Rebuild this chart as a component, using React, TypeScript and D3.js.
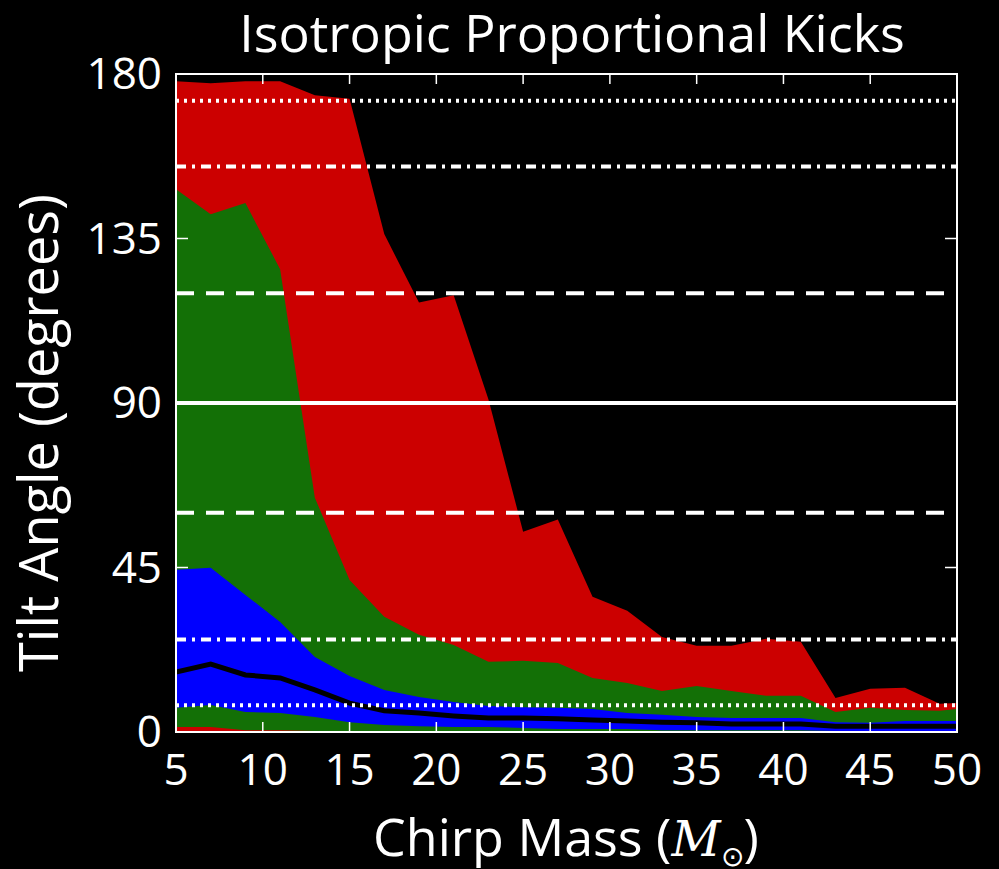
import React from "react";
import * as d3 from "d3";

const mass = [5,7,9,11,13,15,17,19,21,23,25,27,29,31,33,35,37,39,41,43,45,47,49,50];
const redHigh = [178,177.5,178,178,174.2,173.2,136.2,117.5,119.5,91.0,54.8,58.1,37.0,33.2,26.0,23.6,23.6,25.5,24.7,9.3,11.8,12.1,7.7,7.9];
const greenHigh = [148.5,141.6,144.7,126.6,64.1,41.6,31.5,26.6,23.8,19.2,19.5,18.9,14.8,13.4,11.2,12.6,11.2,9.9,9.9,5.5,6.6,6.0,5.8,6.3];
const blueHigh = [44.4,44.9,37.5,30.1,20.5,15.3,11.5,9.6,8.2,7.1,6.8,6.6,6.3,5.2,4.7,4.1,3.8,3.8,3.8,2.7,2.5,3.0,3.0,3.0];
const median = [16.4,18.6,15.6,14.8,11.5,7.9,5.8,5.2,4.4,3.8,3.8,3.6,3.3,3.0,2.7,2.5,2.2,2.2,2.2,1.6,1.6,1.6,1.6,1.6];
const blueLow = [6.6,7.4,5.5,5.2,4.1,2.7,1.9,1.6,1.4,1.4,1.1,0.8,0.8,0.8,0.5,0.5,0.5,0.5,0.5,0.3,0.3,0.3,0.3,0.3];
const greenLow = [1.4,1.4,0.5,0.5,0.3,0.2,0.2,0.2,0.2,0.2,0.2,0.2,0.2,0.2,0.2,0.2,0.2,0.2,0.2,0.1,0.1,0.1,0.1,0.1];
const redLow = mass.map(() => 0);

const xTicks = [5,10,15,20,25,30,35,40,45,50];
const yTicks = [0,45,90,135,180];
const refLines = [
  { v: 90, dash: "" },
  { v: 120, dash: "18,12" },
  { v: 60, dash: "18,12" },
  { v: 154.7, dash: "10,6,3,6" },
  { v: 25.3, dash: "10,6,3,6" },
  { v: 172.7, dash: "3,5" },
  { v: 7.3, dash: "3,5" },
];

export default function App() {
  const L = 176, R = 957, T = 74, B = 732;
  const x = d3.scaleLinear().domain([5, 50]).range([L, R]);
  const y = d3.scaleLinear().domain([0, 180]).range([B, T]);
  const band = (lo: number[], hi: number[]) =>
    d3.area<number>().x((_, i) => x(mass[i])).y0((_, i) => y(lo[i])).y1((_, i) => y(hi[i]))(mass) || "";
  const med = d3.line<number>().x((_, i) => x(mass[i])).y((_, i) => y(median[i]))(mass) || "";
  const font = "'Open Sans', sans-serif";
  return (
    <svg width={999} height={869} style={{ position: "absolute", left: 0, top: 0, background: "#000" }} fontFamily={font}>
      <rect width={999} height={869} fill="#000" />
      <defs><clipPath id="c"><rect x={L} y={T} width={R - L} height={B - T} /></clipPath></defs>
      <g clipPath="url(#c)">
        <path d={band(redLow, redHigh)} fill="#cc0000" />
        <path d={band(greenLow, greenHigh)} fill="#137006" />
        <path d={band(blueLow, blueHigh)} fill="#0000ff" />
        <path d={med} fill="none" stroke="#000" strokeWidth={5} />
        {refLines.map((r, i) => (
          <line key={i} x1={L} x2={R} y1={y(r.v)} y2={y(r.v)} stroke="#fff" strokeWidth={4} strokeDasharray={r.dash} />
        ))}
      </g>
      <rect x={L} y={T} width={R - L} height={B - T} fill="none" stroke="#fff" strokeWidth={2} />
      {xTicks.map(t => (
        <g key={t}>
          <line x1={x(t)} x2={x(t)} y1={B} y2={B - 10} stroke="#fff" strokeWidth={1.5} />
          <line x1={x(t)} x2={x(t)} y1={T} y2={T + 10} stroke="#fff" strokeWidth={1.5} />
          <text x={x(t)} y={B + 53} fill="#fff" fontSize={44} textAnchor="middle">{t}</text>
        </g>
      ))}
      {yTicks.map(t => (
        <g key={t}>
          <line x1={L} x2={L + 12} y1={y(t)} y2={y(t)} stroke="#fff" strokeWidth={1.5} />
          <line x1={R} x2={R - 12} y1={y(t)} y2={y(t)} stroke="#fff" strokeWidth={1.5} />
          <text x={L - 14} y={y(t) + 15} fill="#fff" fontSize={44} textAnchor="end">{t}</text>
        </g>
      ))}
      <text x={572} y={52} fill="#fff" fontSize={52} textAnchor="middle">Isotropic Proportional Kicks</text>
      <text transform={`translate(58,${(T + B) / 2 + 30}) rotate(-90)`} fill="#fff" fontSize={54} textAnchor="middle">Tilt Angle (degrees)</text>
      <text x={566} y={856} fill="#fff" fontSize={52} textAnchor="middle">
        Chirp Mass (<tspan fontStyle="italic" fontFamily="'DejaVu Serif', serif" fontSize={48}>M</tspan><tspan fontSize={28} dy={10}>⊙</tspan><tspan dy={-10}>)</tspan>
      </text>
    </svg>
  );
}
